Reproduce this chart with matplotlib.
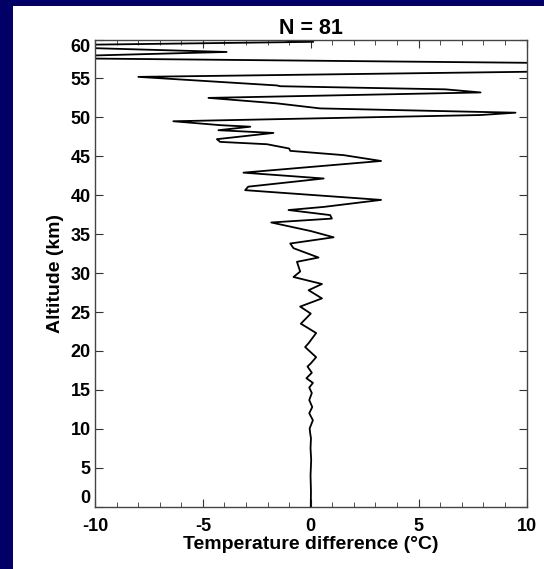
import matplotlib
matplotlib.use('Agg')
import matplotlib.pyplot as plt
from matplotlib.patches import Rectangle
from matplotlib.ticker import MultipleLocator

plt.rcParams['font.family'] = ['Liberation Sans', 'DejaVu Sans']
plt.rcParams['font.weight'] = 'bold'
plt.rcParams['axes.unicode_minus'] = False

# temperature difference profile (deg C) vs altitude (km)
temp_diff = [0.0, 0.01, -0.01, 0.02, -0.01, 0.01, -0.03,
             -0.05, 0.1, -0.07, 0.07, -0.07, 0.05, -0.07, 0.1, -0.2, 0.05, -0.15, 0.0,
             0.25, -0.26, -0.1, 0.25, -0.1, -0.46, 0.0, -0.49, 0.52, -0.1, 0.52,
             -0.8, -0.49, -0.64, 0.36, -0.8, -0.95, 1.06, 0.0, -1.83, 0.98, 0.9,
             -1.03, 0.6, 3.26, -3.04, -2.9, 0.6, -3.12, 3.26, 1.52, -0.95, -1.0,
             -2.03, -4.2, -4.35, -1.73, -4.28, -2.8, -4.2, -6.37, 7.87, 9.49,
             0.44, -1.57, -4.74, 7.87, 6.24, 0.44, -1.42, -1.57, -7.99,
             14.0, 14.0, -14.0, -3.9, -14.0, 0.12, -3.5]
altitude = [0.0, 2.0, 4.0, 6.0, 7.5, 8.8, 9.5,
            10.06, 11.1, 12.0, 12.8, 13.7, 14.6, 15.3, 15.9, 16.5, 17.2, 18.0, 18.4,
            19.2, 20.5, 21.0, 22.3, 22.9, 23.5, 24.8, 25.7, 26.75, 27.8, 28.6,
            29.5, 30.2, 31.45, 32.0, 33.2, 33.8, 34.6, 35.4, 36.5, 37.0, 37.45,
            38.1, 38.5, 39.4, 40.65, 41.1, 42.15, 42.9, 44.4, 45.15, 45.7, 46.0,
            46.55, 46.85, 47.2, 48.0, 48.35, 48.8, 49.0, 49.5, 50.3, 50.6,
            51.15, 51.8, 52.5, 53.2, 53.6, 53.9, 54.0, 54.1, 55.2,
            56.0, 56.9, 57.66, 58.4, 59.2, 59.7, 60.3]

n_profiles = 81
xticks = [-10, -5, 0, 5, 10]
yticks = [0, 5, 10, 15, 20, 25, 30, 35, 40, 45, 50, 55, 60]

fig = plt.figure(figsize=(5.44, 5.69), dpi=100)
fig.patch.set_facecolor('white')
navy = '#000066'
fig.add_artist(Rectangle((0, 0), 13 / 544, 1, transform=fig.transFigure,
                         facecolor=navy, edgecolor='none', zorder=0))
fig.add_artist(Rectangle((0, 1 - 6 / 569), 1, 6 / 569, transform=fig.transFigure,
                         facecolor=navy, edgecolor='none', zorder=0))

ax = fig.add_axes([95 / 544, 1 - 506.7 / 569, 431.5 / 544, 467.2 / 569])
ax.plot(temp_diff, altitude, color='black', lw=1.3)

ax.set_xlim(-10, 10)
ax.set_ylim(0, 60)
ax.set_xticks(xticks)
ax.set_yticks(yticks)
ax.xaxis.set_minor_locator(MultipleLocator(1))
ax.tick_params(axis='both', which='both', direction='in', top=True, right=True,
               labelsize=13, colors='#333333', labelcolor='black')
ax.tick_params(axis='x', which='major', length=6, pad=8)
ax.tick_params(axis='x', which='minor', length=3.5)
ax.tick_params(axis='y', which='major', length=6, pad=3)
for lab in ax.get_xticklabels() + ax.get_yticklabels():
    lab.set_fontweight('bold')
ylabs = ax.get_yticklabels()
ylabs[0].set_va('bottom')
ylabs[-1].set_va('top')
for s in ax.spines.values():
    s.set_color('#444444')
    s.set_linewidth(1.0)

ax.set_xlabel('Temperature difference (°C)', fontsize=14, fontweight='bold', labelpad=1)
ax.set_ylabel('Altitude (km)', fontsize=14, fontweight='bold', labelpad=5)
ax.set_title('N = %d' % n_profiles, fontsize=15.5, fontweight='bold', pad=4)

plt.savefig('out.png', dpi=100, facecolor=fig.get_facecolor())
